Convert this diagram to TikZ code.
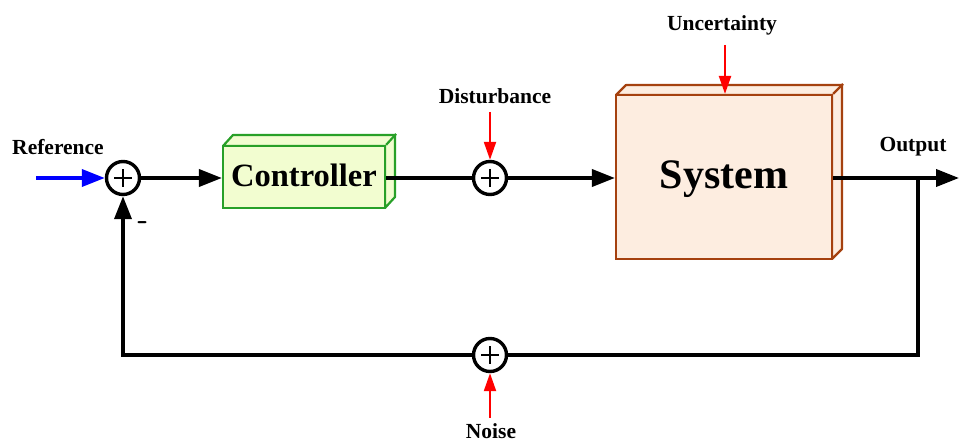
\documentclass[tikz,border=0pt]{standalone}
\usepackage{fontspec}
\setmainfont{Liberation Serif}
\usetikzlibrary{arrows.meta,calc}
\definecolor{ctrlfill}{RGB}{242,253,208}
\definecolor{ctrledge}{RGB}{40,160,40}
\definecolor{sysfill}{RGB}{253,237,224}
\definecolor{sysedge}{RGB}{165,65,15}
\begin{document}
\begin{tikzpicture}[x=1pt,y=-1pt,
  sig/.style={line width=3.8pt,-{Triangle[length=23pt,width=17pt]}},
  wire/.style={line width=3.8pt},
  refsig/.style={sig,draw=blue},
  ext/.style={line width=2.2pt,draw=red,-{Triangle[length=18pt,width=12pt]}},
  lbl/.style={font=\fontsize{21.5}{24}\selectfont\bfseries,inner sep=0pt},
  sumnode/.style={circle,draw,line width=3.4pt,minimum size=33pt,inner sep=0pt,fill=white,
    path picture={
      \draw[line width=2.8pt] ($(path picture bounding box.center)+(-9pt,0)$) -- ++(18pt,0);
      \draw[line width=2.8pt] ($(path picture bounding box.center)+(0,-9pt)$) -- ++(0,18pt);}},
  ctrlbox/.style={draw=ctrledge,fill=ctrlfill,line width=2.2pt,inner sep=0pt,
    minimum width=162pt,minimum height=62pt,text depth=3pt,
    font=\fontsize{32.5}{36}\selectfont\bfseries\rmfamily},
  sysbox/.style={draw=sysedge,fill=sysfill,line width=2.2pt,inner sep=0pt,
    minimum width=216pt,minimum height=164pt,text depth=4pt,
    font=\fontsize{42}{48}\selectfont\bfseries\rmfamily},
  ctrlside/.style={draw=ctrledge,fill=ctrlfill,line width=2.2pt,line join=round},
  sysside/.style={draw=sysedge,fill=sysfill,line width=2.2pt,line join=round}]
\useasboundingbox (0,0) rectangle (959,443);

% summing junctions
\node[sumnode] (sum1) at (123,178) {};
\node[sumnode] (sum2) at (490,178) {};
\node[sumnode] (sum3) at (490,355) {};

% controller block with its depth faces
\path[ctrlside] (223,146) -- ++(10,-11) -- ++(162,0) -- ++(0,62) -- (385,208) -- (385,146) -- cycle;
\node[ctrlbox] (ctrl) at (304,177) {Controller};
\draw[ctrlside,fill=none] (ctrl.north east) -- ++(10,-11);

% plant block with its depth faces
\path[sysside] (616,95) -- ++(10,-10) -- ++(216,0) -- ++(0,164) -- (832,259) -- (832,95) -- cycle;
\node[sysbox] (sys) at (724,177) {System};
\draw[sysside,fill=none] (sys.north east) -- ++(10,-10);

% free ends
\coordinate (refin) at (36,178);
\coordinate (dist) at (490,112);
\coordinate (unc) at (725,45);
\coordinate (noise) at (490,418);
\coordinate (tap) at (918,178);
\coordinate (out) at (959,178);

% forward path
\draw[refsig] (refin) -- (sum1);
\draw[sig] (sum1) -- (ctrl.west |- sum1);
\draw[wire] (ctrl.east |- sum2) -- (sum2);
\draw[sig] (sum2) -- (sys.west |- sum2);
\draw[sig] (sys.east |- tap) -- (out);

% feedback path
\draw[wire] (tap) |- (sum3);
\draw[sig] (sum3) -| (sum1);

% external inputs
\draw[ext] (dist) -- (sum2);
\draw[ext] (unc) -- (unc |- sys.north);
\draw[ext] (noise) -- (sum3);

% labels
\node[lbl] (lref) at (58,147) {Reference};
\node[lbl] (ldist) at (495,96) {Disturbance};
\node[lbl] (lunc) at (722,25) {Uncertainty};
\node[lbl] (lout) at (913,147) {Output};
\node[lbl] (lnoise) at (491,431) {Noise};
\node[lbl,anchor=base,font=\fontsize{30}{30}\selectfont\bfseries\sffamily] (lminus) at (143,230) {-};
\end{tikzpicture}
\end{document}
